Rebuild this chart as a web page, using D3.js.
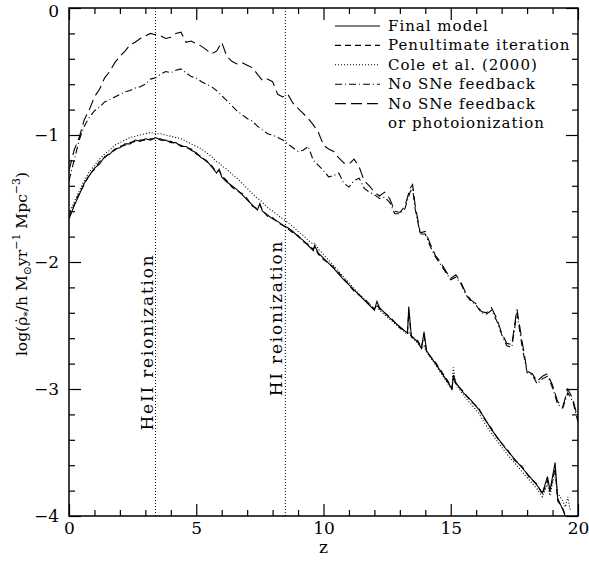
<!DOCTYPE html>
<html>
<head>
<meta charset="utf-8">
<script src="https://cdn.jsdelivr.net/npm/d3@7"></script>
<style>
  body { margin: 0; background: #fff; }
  text { font-family: "DejaVu Serif", serif; fill: #000; }
</style>
</head>
<body>
<div id="chart"></div>
<script>
// redshift grid for the three lower curves
const zLow = [0, 0.2, 0.4, 0.6, 0.8, 1.0, 1.2, 1.4, 1.6, 1.8, 2.0, 2.2, 2.4, 2.6, 2.8, 3.0, 3.2, 3.4, 3.6, 3.8,
  4.0, 4.2, 4.4, 4.6, 4.8, 5.0, 5.2, 5.4, 5.6, 5.8, 5.9, 6.0, 6.2, 6.4, 6.6, 6.8, 7.0, 7.2, 7.4,
  7.5, 7.6, 7.8, 8.0, 8.2, 8.4, 8.6, 8.8, 9.0, 9.2, 9.4, 9.6,
  9.65, 9.8, 10.0, 10.4, 10.8, 11.2, 11.6, 12.0,
  12.1, 12.2, 12.6, 13.0, 13.3, 13.35, 13.45, 13.7, 13.85, 13.95, 14.05,
  14.4, 14.8, 15.05, 15.1, 15.2, 15.5, 15.8, 16.1, 16.3, 16.6, 16.9,
  17.2, 17.5, 17.8, 18.1, 18.4, 18.6, 18.8, 18.9, 19.1, 19.2, 19.4, 19.5];

const finalModel = [-1.66, -1.56, -1.47, -1.38, -1.32, -1.26, -1.23, -1.17, -1.15, -1.11,
  -1.10, -1.07, -1.07, -1.04, -1.05, -1.03, -1.04, -1.02, -1.04, -1.04,
  -1.06, -1.06, -1.09, -1.09, -1.12, -1.14, -1.18, -1.20, -1.25, -1.30,
  -1.27, -1.33, -1.37, -1.40, -1.43, -1.47, -1.51, -1.55, -1.59,
  -1.54, -1.60, -1.63, -1.66, -1.68, -1.71, -1.73, -1.76, -1.80, -1.83, -1.87, -1.91,
  -1.87, -1.93, -1.97, -2.05, -2.14, -2.22, -2.30, -2.38,
  -2.31, -2.36, -2.44, -2.51, -2.56, -2.35, -2.58, -2.63, -2.68, -2.55, -2.70,
  -2.80, -2.92, -3.00, -2.89, -2.95, -3.03, -3.09, -3.16, -3.22, -3.32, -3.40,
  -3.48, -3.55, -3.62, -3.69, -3.76, -3.82, -3.69, -3.80, -3.58, -3.86, -3.95, -4.0];

const penultimate = [-1.65, -1.55, -1.46, -1.39, -1.31, -1.27, -1.21, -1.18, -1.14, -1.12,
  -1.09, -1.08, -1.06, -1.05, -1.04, -1.04, -1.03, -1.03, -1.03, -1.05,
  -1.05, -1.07, -1.08, -1.10, -1.11, -1.15, -1.17, -1.21, -1.24, -1.29,
  -1.28, -1.32, -1.36, -1.41, -1.44, -1.46, -1.50, -1.56, -1.58,
  -1.55, -1.59, -1.64, -1.65, -1.69, -1.71, -1.74, -1.77, -1.79, -1.84, -1.86, -1.90,
  -1.88, -1.94, -1.98, -2.04, -2.13, -2.23, -2.29, -2.37,
  -2.33, -2.37, -2.43, -2.52, -2.55, -2.40, -2.59, -2.62, -2.67, -2.58, -2.71,
  -2.79, -2.91, -2.99, -2.92, -2.96, -3.02, -3.10, -3.15, -3.23, -3.31, -3.41,
  -3.47, -3.56, -3.61, -3.70, -3.75, -3.83, -3.72, -3.81, -3.62, -3.88, -3.94, -3.99];

const coleZTail = [19.6, 19.7];
const cole2000 = [-1.62, -1.53, -1.44, -1.36, -1.29, -1.24, -1.19, -1.15, -1.12, -1.08,
  -1.06, -1.04, -1.02, -1.01, -1.00, -0.99, -0.98, -0.99, -0.99, -1.00,
  -1.01, -1.02, -1.03, -1.05, -1.07, -1.09, -1.11, -1.14, -1.17, -1.21,
  -1.22, -1.24, -1.27, -1.31, -1.34, -1.38, -1.42, -1.46, -1.50,
  -1.51, -1.53, -1.57, -1.60, -1.63, -1.66, -1.69, -1.72, -1.76, -1.79, -1.83, -1.86,
  -1.85, -1.90, -1.94, -2.03, -2.12, -2.21, -2.29, -2.37,
  -2.34, -2.38, -2.45, -2.52, -2.57, -2.55, -2.59, -2.64, -2.68, -2.66, -2.71,
  -2.81, -2.93, -3.01, -2.83, -2.96, -3.05, -3.12, -3.19, -3.26, -3.35, -3.43,
  -3.51, -3.58, -3.65, -3.72, -3.79, -3.85, -3.75, -3.84, -3.65, -3.82, -3.88, -3.93,
  -3.85, -3.96];

// redshift grid for the two upper curves
const zHigh = [0, 0.2, 0.4, 0.6, 0.8, 1.0, 1.2, 1.4, 1.6, 1.8, 2.0, 2.2, 2.4, 2.6, 2.8, 3.0, 3.2, 3.4, 3.6, 3.8,
  4.0, 4.2, 4.4, 4.6, 4.8, 5.0, 5.2, 5.4, 5.6, 5.8, 6.0, 6.2, 6.4, 6.6, 6.8, 7.0, 7.2, 7.4, 7.6, 7.8,
  8.0, 8.2, 8.4, 8.6, 8.8, 9.0, 9.2, 9.4, 9.6, 9.8, 10.0, 10.2, 10.4, 10.6, 10.8, 11.0, 11.2, 11.4, 11.6, 11.8,
  12.0, 12.2, 12.4, 12.6, 12.8, 13.0, 13.2, 13.4, 13.5,
  13.6, 13.8, 14.0, 14.2, 14.4, 14.6, 14.8, 15.0, 15.2, 15.4, 15.6, 15.8, 16.0, 16.2, 16.4, 16.6, 16.8,
  17.0, 17.2, 17.4, 17.6, 17.8, 18.0, 18.2, 18.4, 18.6, 18.8, 19.0, 19.2, 19.4, 19.6, 19.8, 20.0];

const noSNe = [-1.36, -1.20, -1.04, -0.93, -0.86, -0.81, -0.78, -0.74, -0.72, -0.70,
  -0.68, -0.66, -0.65, -0.63, -0.62, -0.60, -0.56, -0.55, -0.52, -0.50,
  -0.51, -0.49, -0.48, -0.51, -0.54, -0.55, -0.58, -0.60, -0.62, -0.65,
  -0.69, -0.73, -0.77, -0.81, -0.84, -0.87, -0.89, -0.93, -0.96, -0.99,
  -1.00, -1.02, -1.04, -1.07, -1.10, -1.13, -1.12, -1.09, -1.20, -1.24,
  -1.28, -1.33, -1.32, -1.30, -1.38, -1.41, -1.36, -1.34, -1.42, -1.45,
  -1.47, -1.50, -1.49, -1.53, -1.62, -1.62, -1.58, -1.45, -1.42,
  -1.58, -1.78, -1.78, -1.88, -1.96, -2.02, -2.08, -2.14, -2.12, -2.17,
  -2.26, -2.31, -2.34, -2.40, -2.41, -2.38, -2.46, -2.57, -2.66, -2.67,
  -2.40, -2.66, -2.87, -2.89, -2.96, -2.92, -2.90, -2.99, -3.12, -3.15,
  -3.03, -3.10, -3.26];

const noSNeNoPhoto = [-1.28, -1.12, -1.02, -0.88, -0.80, -0.70, -0.64, -0.55, -0.50, -0.43,
  -0.38, -0.34, -0.29, -0.27, -0.24, -0.22, -0.20, -0.21, -0.22, -0.24,
  -0.23, -0.20, -0.19, -0.27, -0.26, -0.28, -0.30, -0.33, -0.36, -0.34,
  -0.27, -0.38, -0.42, -0.44, -0.43, -0.45, -0.47, -0.52, -0.57, -0.56,
  -0.58, -0.68, -0.70, -0.68, -0.75, -0.79, -0.83, -0.87, -0.92, -0.98,
  -1.08, -1.11, -1.13, -1.18, -1.22, -1.23, -1.19, -1.25, -1.36, -1.40,
  -1.45, -1.48, -1.45, -1.50, -1.60, -1.61, -1.56, -1.42, -1.39,
  -1.55, -1.77, -1.76, -1.86, -1.95, -2.00, -2.07, -2.13, -2.10, -2.16,
  -2.25, -2.30, -2.33, -2.39, -2.40, -2.36, -2.44, -2.56, -2.64, -2.65,
  -2.37, -2.62, -2.86, -2.88, -2.94, -2.90, -2.88, -2.97, -3.10, -3.14,
  -3.00, -3.08, -3.24];

const reionization = [{ z: 3.4, label: "HeII reionization" }, { z: 8.5, label: "HI reionization" }];

const legendLabels = ["Final model", "Penultimate iteration", "Cole et al. (2000)", "No SNe feedback", "No SNe feedback"];
const xMajor = [0, 5, 10, 15, 20];
const yMajor = [-4, -3, -2, -1, 0];

const width = 589, height = 563;
const margin = { left: 69, right: 11, top: 8, bottom: 47 };

const svg = d3.select("#chart").append("svg")
  .attr("width", width)
  .attr("height", height)
  .attr("viewBox", [0, 0, width, height]);

const xScale = d3.scaleLinear([0, 20], [margin.left, width - margin.right]);
const yScale = d3.scaleLinear([-4, 0], [height - margin.bottom, margin.top]);

const series = [
  { z: zLow, v: finalModel, dash: null },
  { z: zLow, v: penultimate, dash: "6,4" },
  { z: zLow.concat(coleZTail), v: cole2000, dash: "1,2" },
  { z: zHigh, v: noSNe, dash: "7,3,1,3" },
  { z: zHigh, v: noSNeNoPhoto, dash: "11,5" }
];

const lineGen = d3.line()
  .x(d => xScale(d[0]))
  .y(d => yScale(d[1]));

svg.append("defs").append("clipPath").attr("id", "plot")
  .append("rect")
  .attr("x", xScale(0)).attr("y", yScale(0))
  .attr("width", xScale(20) - xScale(0)).attr("height", yScale(-4) - yScale(0));

// reionization markers
svg.append("g").selectAll("line")
  .data(reionization)
  .join("line")
  .attr("x1", d => xScale(d.z)).attr("x2", d => xScale(d.z))
  .attr("y1", yScale(-4)).attr("y2", yScale(0))
  .attr("stroke", "#000").attr("stroke-width", 1)
  .attr("stroke-dasharray", "1,2");

const annY = [342, 318];
svg.append("g").selectAll("text")
  .data(reionization)
  .join("text")
  .attr("transform", (d, i) => `translate(${xScale(d.z) - 3},${annY[i]}) rotate(-90)`)
  .attr("text-anchor", "middle")
  .attr("font-size", 17)
  .attr("letter-spacing", 1.8)
  .text(d => d.label);

svg.append("g").attr("clip-path", "url(#plot)")
  .selectAll("path")
  .data(series)
  .join("path")
  .attr("fill", "none")
  .attr("stroke", "#000")
  .attr("stroke-width", 1.1)
  .attr("stroke-dasharray", d => d.dash)
  .attr("d", d => lineGen(d.z.map((z, i) => [z, d.v[i]])));

// axes, ticks pointing inward on all four sides
const xMinor = d3.range(0, 21).filter(d => d % 5 !== 0);
const yMinor = d3.range(-40, 1, 2).map(d => d / 10).filter(d => !Number.isInteger(d));

function styleAxis(g) {
  g.select(".domain").remove();
  g.selectAll("line").attr("stroke", "#000").attr("stroke-width", 1.2);
  g.selectAll("text").attr("font-family", "DejaVu Serif, serif").attr("font-size", 17);
}

const bottomY = yScale(-4), topY = yScale(0), leftX = xScale(0), rightX = xScale(20);

svg.append("g").attr("transform", `translate(0,${bottomY})`)
  .call(d3.axisBottom(xScale).tickValues(xMajor).tickSize(-12).tickPadding(6).tickFormat(d3.format("d")))
  .call(styleAxis);
svg.append("g").attr("transform", `translate(0,${bottomY})`)
  .call(d3.axisBottom(xScale).tickValues(xMinor).tickSize(-6).tickFormat(""))
  .call(styleAxis);
svg.append("g").attr("transform", `translate(0,${topY})`)
  .call(d3.axisTop(xScale).tickValues(xMajor).tickSize(-12).tickFormat(""))
  .call(styleAxis);
svg.append("g").attr("transform", `translate(0,${topY})`)
  .call(d3.axisTop(xScale).tickValues(xMinor).tickSize(-6).tickFormat(""))
  .call(styleAxis);

const yAxisLeft = svg.append("g").attr("transform", `translate(${leftX},0)`)
  .call(d3.axisLeft(yScale).tickValues(yMajor).tickSize(-12).tickPadding(10).tickFormat(d3.format("d")))
  .call(styleAxis);
// keep the top "0" label inside the picture
yAxisLeft.selectAll(".tick text").filter(d => d === 0).attr("dy", "0.5em");
svg.append("g").attr("transform", `translate(${leftX},0)`)
  .call(d3.axisLeft(yScale).tickValues(yMinor).tickSize(-6).tickFormat(""))
  .call(styleAxis);
svg.append("g").attr("transform", `translate(${rightX},0)`)
  .call(d3.axisRight(yScale).tickValues(yMajor).tickSize(-12).tickFormat(""))
  .call(styleAxis);
svg.append("g").attr("transform", `translate(${rightX},0)`)
  .call(d3.axisRight(yScale).tickValues(yMinor).tickSize(-6).tickFormat(""))
  .call(styleAxis);

svg.append("rect")
  .attr("x", leftX).attr("y", topY)
  .attr("width", rightX - leftX).attr("height", bottomY - topY)
  .attr("fill", "none").attr("stroke", "#000").attr("stroke-width", 1.5);

// axis titles
svg.append("text")
  .attr("x", xScale(10)).attr("y", 553)
  .attr("text-anchor", "middle")
  .attr("font-size", 17)
  .text("z");

const yTitle = svg.append("text")
  .attr("transform", `translate(27,${yScale(-2) + 2}) rotate(-90)`)
  .attr("text-anchor", "middle")
  .attr("font-size", 15.5);
yTitle.append("tspan").text("log(ρ\u0307");
yTitle.append("tspan").attr("dy", 4).attr("font-size", 11).text("*");
yTitle.append("tspan").attr("dy", -4).text("/h M");
yTitle.append("tspan").attr("dy", 4).attr("font-size", 11).text("⊙");
yTitle.append("tspan").attr("dy", -4).text("yr");
yTitle.append("tspan").attr("dy", -7).attr("font-size", 11).text("−1");
yTitle.append("tspan").attr("dy", 7).text(" Mpc");
yTitle.append("tspan").attr("dy", -7).attr("font-size", 11).text("−3");
yTitle.append("tspan").attr("dy", 7).text(")");

// legend
const legend = svg.append("g").attr("transform", "translate(335,31)");
const rowH = 19.4;
legend.selectAll("line")
  .data(series)
  .join("line")
  .attr("x1", 0).attr("x2", 45)
  .attr("y1", (d, i) => i * rowH - 5).attr("y2", (d, i) => i * rowH - 5)
  .attr("stroke", "#000").attr("stroke-width", 1.1)
  .attr("stroke-dasharray", d => d.dash);
legend.selectAll("text")
  .data(legendLabels.concat(["or photoionization"]))
  .join("text")
  .attr("x", 53)
  .attr("y", (d, i) => i * rowH)
  .attr("font-size", 15)
  .attr("letter-spacing", 1)
  .text(d => d);
</script>
</body>
</html>
